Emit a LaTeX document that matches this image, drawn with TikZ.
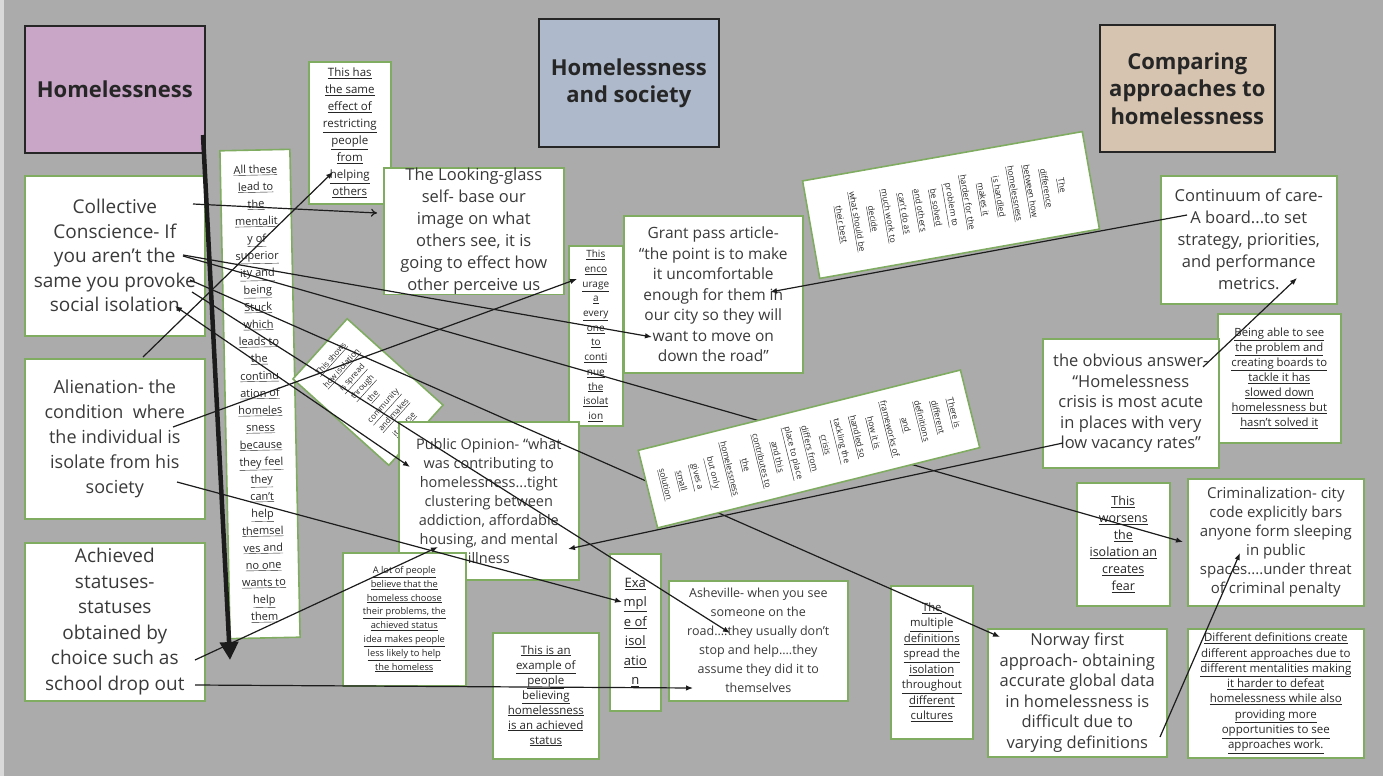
\documentclass[tikz,border=0pt]{standalone}
\usepackage{fontspec}
\setmainfont{Open Sans}
\usetikzlibrary{arrows.meta}
\definecolor{bg}{RGB}{171,171,171}
\definecolor{ngreen}{RGB}{128,172,98}
\definecolor{tpurple}{RGB}{201,166,200}
\definecolor{tblue}{RGB}{174,186,203}
\definecolor{ttan}{RGB}{214,196,176}
\definecolor{ink}{RGB}{58,58,58}
\definecolor{wirec}{RGB}{28,28,28}
\newcommand{\myul}[1]{\underline{#1}}
\tikzset{
  titlebox/.style={draw=black!85, line width=1.6pt, anchor=north west, inner sep=0pt, align=center, text=black!85},
  bignote/.style={draw=ngreen, fill=white, line width=1.6pt, anchor=north west, inner sep=0pt, align=center, text=ink},
  smallnote/.style={bignote, text=black!85},
  rotnote/.style={draw=ngreen, fill=white, line width=1.6pt, anchor=center, inner sep=0pt, align=center, text=black!85},
  wire/.style={draw=wirec, line width=1.2pt, -{Latex[length=7pt,width=5.5pt]}},
}
\begin{document}
\begin{tikzpicture}[x=1pt,y=-1pt]
\useasboundingbox (0,0) rectangle (1383,776);
\fill[bg] (0,0) rectangle (1383,776);
\fill[black!15] (0,0) rectangle (4,776);

% title boxes
\node[titlebox, fill=tpurple, minimum width=180pt, minimum height=127pt, font=\bfseries\fontsize{22}{27}\selectfont] (homeless) at (24,25) {Homelessness};
\node[titlebox, fill=tblue, minimum width=180pt, minimum height=128pt, font=\bfseries\fontsize{22}{27}\selectfont] (society) at (538,18) {Homelessness\\and society};
\node[titlebox, fill=ttan, minimum width=175pt, minimum height=127pt, font=\bfseries\fontsize{22}{27.5}\selectfont] (compare) at (1099,24) {Comparing\\approaches to\\homelessness};

% left column
\node[bignote, minimum width=180pt, minimum height=160pt, font=\fontsize{19}{24.5}\selectfont] (collective) at (24,175) {Collective\\Conscience- If\\you aren’t the\\same you provoke\\social isolation};
\node[bignote, minimum width=180pt, minimum height=160pt, font=\fontsize{18}{25}\selectfont] (alienation) at (24,358) {Alienation- the\\condition~ where\\the individual is\\isolate from his\\society};
\node[bignote, minimum width=180pt, minimum height=158pt, font=\fontsize{19}{25.5}\selectfont] (achieved) at (24,542) {Achieved\\statuses-\\statuses\\obtained by\\choice such as\\school drop out};

% all these column
\node[rotnote, minimum width=70pt, minimum height=488pt, rotate=1.2, font=\fontsize{11}{17.2}\selectfont] (allthese) at (260,394) {\myul{All these}\\\myul{lead to}\\\myul{the}\\\myul{mentalit}\\\myul{y of}\\\myul{superior}\\\myul{ity and}\\\myul{being}\\\myul{Stuck}\\\myul{which}\\\myul{leads to}\\\myul{the}\\\myul{continu}\\\myul{ation of}\\\myul{homeles}\\\myul{sness}\\\myul{because}\\\myul{they feel}\\\myul{they}\\\myul{can’t}\\\myul{help}\\\myul{themsel}\\\myul{ves and}\\\myul{no one}\\\myul{wants to}\\\myul{help}\\\myul{them}};

\node[smallnote, minimum width=82pt, minimum height=142pt, font=\fontsize{11.5}{17}\selectfont] (thishas) at (308,61) {\myul{This has}\\\myul{the same}\\\myul{effect of}\\\myul{restricting}\\\myul{people}\\\myul{from}\\\myul{helping}\\\myul{others}};

\node[bignote, minimum width=180pt, minimum height=125pt, font=\fontsize{16.5}{22}\selectfont] (looking) at (383,167) {The Looking-glass\\self- base our\\image on what\\others see, it is\\going to effect how\\other perceive us};

\node[smallnote, minimum width=54pt, minimum height=180pt, font=\fontsize{10}{14.7}\selectfont] (encourage) at (568,245) {\myul{This}\\\myul{enco}\\\myul{urage}\\\myul{a}\\\myul{every}\\\myul{one}\\\myul{to}\\\myul{conti}\\\myul{nue}\\\myul{the}\\\myul{isolat}\\\myul{ion}};

\node[bignote, minimum width=179pt, minimum height=157pt, font=\fontsize{15.5}{20.5}\selectfont] (grant) at (623,215) {Grant pass article-\\“the point is to make\\it uncomfortable\\enough for them in\\our city so they will\\want to move on\\down the road”};

\node[rotnote, minimum width=81pt, minimum height=129pt, rotate=48, font=\fontsize{8}{14}\selectfont] (smallrot) at (368,392) {\myul{This shows}\\\myul{how isolation}\\\myul{is spread}\\\myul{through}\\\myul{the}\\\myul{community}\\\myul{and makes}\\\myul{it worse}};

\node[rotnote, minimum width=99pt, minimum height=284pt, rotate=-80, font=\fontsize{8.5}{16}\selectfont] (toprot) at (951,205) {\myul{The}\\\myul{difference}\\\myul{between how}\\\myul{homelessness}\\\myul{is handled}\\\myul{makes it}\\\myul{harder for the}\\\myul{problem to}\\\myul{be solved}\\\myul{and others}\\\myul{can’t do as}\\\myul{much work to}\\\myul{decide}\\\myul{what should be}\\\myul{their best}};

\node[bignote, minimum width=180pt, minimum height=158pt, font=\fontsize{14.5}{19}\selectfont] (public) at (398,421) {Public Opinion- “what\\was contributing to\\homelessness...tight\\clustering between\\addiction, affordable\\housing, and mental\\illness};

\node[smallnote, minimum width=123pt, minimum height=133pt, font=\fontsize{9.3}{13.8}\selectfont] (alot) at (342,552) {\myul{A lot of people}\\\myul{believe that the}\\\myul{homeless choose}\\\myul{their problems, the}\\\myul{achieved status}\\\myul{idea makes people}\\\myul{less likely to help}\\\myul{the homeless}};

\node[smallnote, minimum width=106pt, minimum height=126pt, font=\fontsize{11.5}{15}\selectfont] (thisis) at (492,632) {\myul{This is an}\\\myul{example of}\\\myul{people}\\\myul{believing}\\\myul{homelessness}\\\myul{is an achieved}\\\myul{status}};

\node[smallnote, minimum width=51pt, minimum height=157pt, font=\fontsize{13}{19.5}\selectfont] (example) at (609,553) {\myul{Exa}\\\myul{mpl}\\\myul{e of}\\\myul{isol}\\\myul{atio}\\\myul{n}};

\node[bignote, minimum width=179pt, minimum height=120pt, font=\fontsize{12.5}{19}\selectfont] (asheville) at (668,580) {Asheville- when you see\\someone on the\\road....they usually don’t\\stop and help....they\\assume they did it to\\themselves};

\node[smallnote, minimum width=82pt, minimum height=153pt, font=\fontsize{11.3}{15.5}\selectfont] (multiple) at (890,585) {\myul{The}\\\myul{multiple}\\\myul{definitions}\\\myul{spread the}\\\myul{isolation}\\\myul{throughout}\\\myul{different}\\\myul{cultures}};

\node[bignote, minimum width=179pt, minimum height=128pt, font=\fontsize{16.5}{20.5}\selectfont] (norway) at (987,628) {Norway first\\approach- obtaining\\accurate global data\\in homelessness is\\difficult due to\\varying definitions};

\node[smallnote, minimum width=93pt, minimum height=123pt, font=\fontsize{12.5}{17}\selectfont] (worsens) at (1076,482) {\myul{This}\\\myul{worsens}\\\myul{the}\\\myul{isolation an}\\\myul{creates}\\\myul{fear}};

\node[bignote, minimum width=176pt, minimum height=127pt, font=\fontsize{15}{19}\selectfont] (crim) at (1187,478) {Criminalization- city\\code explicitly bars\\anyone form sleeping\\in public\\spaces....under threat\\of criminal penalty};

\node[smallnote, minimum width=176pt, minimum height=129pt, font=\fontsize{11.5}{15.3}\selectfont] (diffdef) at (1187,628) {\myul{Different definitions create}\\\myul{different approaches due to}\\\myul{different mentalities making}\\\myul{it harder to defeat}\\\myul{homelessness while also}\\\myul{providing more}\\\myul{opportunities to see}\\\myul{approaches work.}};

\node[bignote, minimum width=176pt, minimum height=128pt, font=\fontsize{16.5}{22}\selectfont] (continuum) at (1160,175) {Continuum of care-\\A board...to set\\strategy, priorities,\\and performance\\metrics.};

\node[smallnote, minimum width=123pt, minimum height=129pt, font=\fontsize{11.3}{15}\selectfont] (being) at (1217,313) {\myul{Being able to see}\\\myul{the problem and}\\\myul{creating boards to}\\\myul{tackle it has}\\\myul{slowed down}\\\myul{homelessness but}\\\myul{hasn’t solved it}};

\node[bignote, minimum width=176pt, minimum height=129pt, font=\fontsize{16.5}{20.5}\selectfont] (obvious) at (1042,338) {the obvious answer-\\“Homelessness\\crisis is most acute\\in places with very\\low vacancy rates”};

% connector end points
\coordinate (t0s) at (203,135); \coordinate (t0e) at (230,660);
\coordinate (c1s) at (193,204); \coordinate (c1e) at (377,213);
\coordinate (c2s) at (143,357); \coordinate (c2e) at (333,172);
\coordinate (c3s) at (183,255); \coordinate (c3e) at (652,337);
\coordinate (c4s) at (183,256); \coordinate (c4e) at (1183,542);
\coordinate (c5s) at (190,280); \coordinate (c5e) at (1000,637);
\coordinate (c6s) at (175,306); \coordinate (c6e) at (410,467);
\coordinate (c7s) at (192,292); \coordinate (c7e) at (730,633);
\coordinate (c8s) at (173,427); \coordinate (c8e) at (577,279);
\coordinate (c9s) at (177,482); \coordinate (c9e) at (622,602);
\coordinate (c10s) at (195,660); \coordinate (c10e) at (438,547);
\coordinate (c11s) at (195,685); \coordinate (c11e) at (693,688);
\coordinate (c12s) at (1187,215); \coordinate (c12e) at (770,292);
\coordinate (c13s) at (1203,367); \coordinate (c13e) at (1297,278);
\coordinate (c14s) at (1063,443); \coordinate (c14e) at (568,549);
\coordinate (c15s) at (1160,737); \coordinate (c15e) at (1240,553);

\draw[wirec, line width=4.5pt, -{Triangle[length=18pt,width=18pt]}] (t0s) -- (t0e);
\draw[wire, -{To[length=6pt,width=8pt]}] (c1s) -- (c1e);
\draw[wire] (c2s) -- (c2e);
\draw[wire] (c3s) -- (c3e);
\draw[wire] (c4s) -- (c4e);
\draw[wire] (c5s) -- (c5e);
\draw[wire, {Latex[length=7pt,width=5.5pt]}-{Latex[length=7pt,width=5.5pt]}] (c6s) -- (c6e);
\draw[wire] (c7s) -- (c7e);
\draw[wire] (c8s) -- (c8e);
\draw[wire] (c9s) -- (c9e);
\draw[wire] (c10s) -- (c10e);
\draw[wire] (c11s) -- (c11e);
\draw[wire] (c12s) -- (c12e);
\draw[wire] (c13s) -- (c13e);
\draw[wire] (c14s) -- (c14e);
\draw[wire] (c15s) -- (c15e);

% middle rotated note lies above the connectors
\node[rotnote, minimum width=80pt, minimum height=332pt, rotate=-76, font=\fontsize{8.5}{16.5}\selectfont] (midrot) at (809,449) {\myul{There is}\\\myul{different}\\\myul{definitions}\\\myul{and}\\\myul{frameworks of}\\\myul{how it is}\\\myul{handled so}\\\myul{tackling the}\\\myul{crisis}\\\myul{differs from}\\\myul{place to place}\\\myul{and this}\\\myul{contributes to}\\\myul{the}\\\myul{homelessness}\\\myul{but only}\\\myul{gives a}\\\myul{small}\\\myul{solution}};
\end{tikzpicture}
\end{document}
